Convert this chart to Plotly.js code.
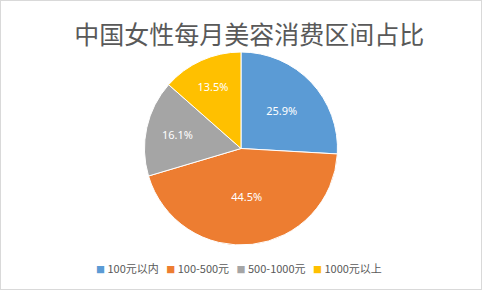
<!DOCTYPE html>
<html>
<head>
<meta charset="utf-8">
<script src="https://cdn.plot.ly/plotly-3.0.1.min.js"></script>
<style>
html,body{margin:0;padding:0;background:#fff;}
#wrap{position:relative;width:482px;height:290px;}
#chart{width:482px;height:290px;}
#frame{position:absolute;left:0;top:0;width:480px;height:288px;border:1px solid #d9d9d9;pointer-events:none;}
</style>
</head>
<body>
<div id="wrap"><div id="chart"></div><div id="frame"></div></div>
<script>
const titleText = '中国女性每月美容消费区间占比';
const categories = ['100元以内', '100-500元', '500-1000元', '1000元以上'];
const values = [25.9, 44.5, 16.1, 13.5];
const colors = ['#5B9BD5', '#ED7D31', '#A5A5A5', '#FFC000'];

const trace = {
  type: 'pie',
  labels: categories,
  values: values,
  sort: false,
  direction: 'clockwise',
  rotation: 0,
  marker: {colors: colors, line: {color: '#ffffff', width: 1}},
  texttemplate: '%{percent:.1%}',
  textposition: 'inside',
  insidetextorientation: 'horizontal',
  textfont: {family: 'Noto Sans, sans-serif', size: 11, color: '#ffffff'},
  hoverinfo: 'label+percent',
  showlegend: false
};

const legendText = categories.map((c, i) =>
  '<span style="color:' + colors[i] + ';font-size:9px">■</span> ' + c
).join('   ');

const layout = {
  width: 482,
  height: 290,
  margin: {l: 0, r: 0, t: 52, b: 45},
  paper_bgcolor: '#ffffff',
  title: {
    text: titleText,
    x: 0.517, xanchor: 'center',
    y: 0.88, yanchor: 'middle',
    font: {family: 'Noto Sans CJK SC, sans-serif', size: 25, color: '#595959'}
  },
  showlegend: false,
  annotations: [{
    xref: 'paper', yref: 'paper',
    x: 0.495, xanchor: 'center',
    y: -0.12, yanchor: 'middle',
    showarrow: false,
    text: legendText,
    font: {family: 'Noto Sans CJK SC, sans-serif', size: 11, color: '#595959'}
  }]
};

Plotly.newPlot('chart', [trace], layout, {displayModeBar: false, staticPlot: true});
</script>
</body>
</html>
